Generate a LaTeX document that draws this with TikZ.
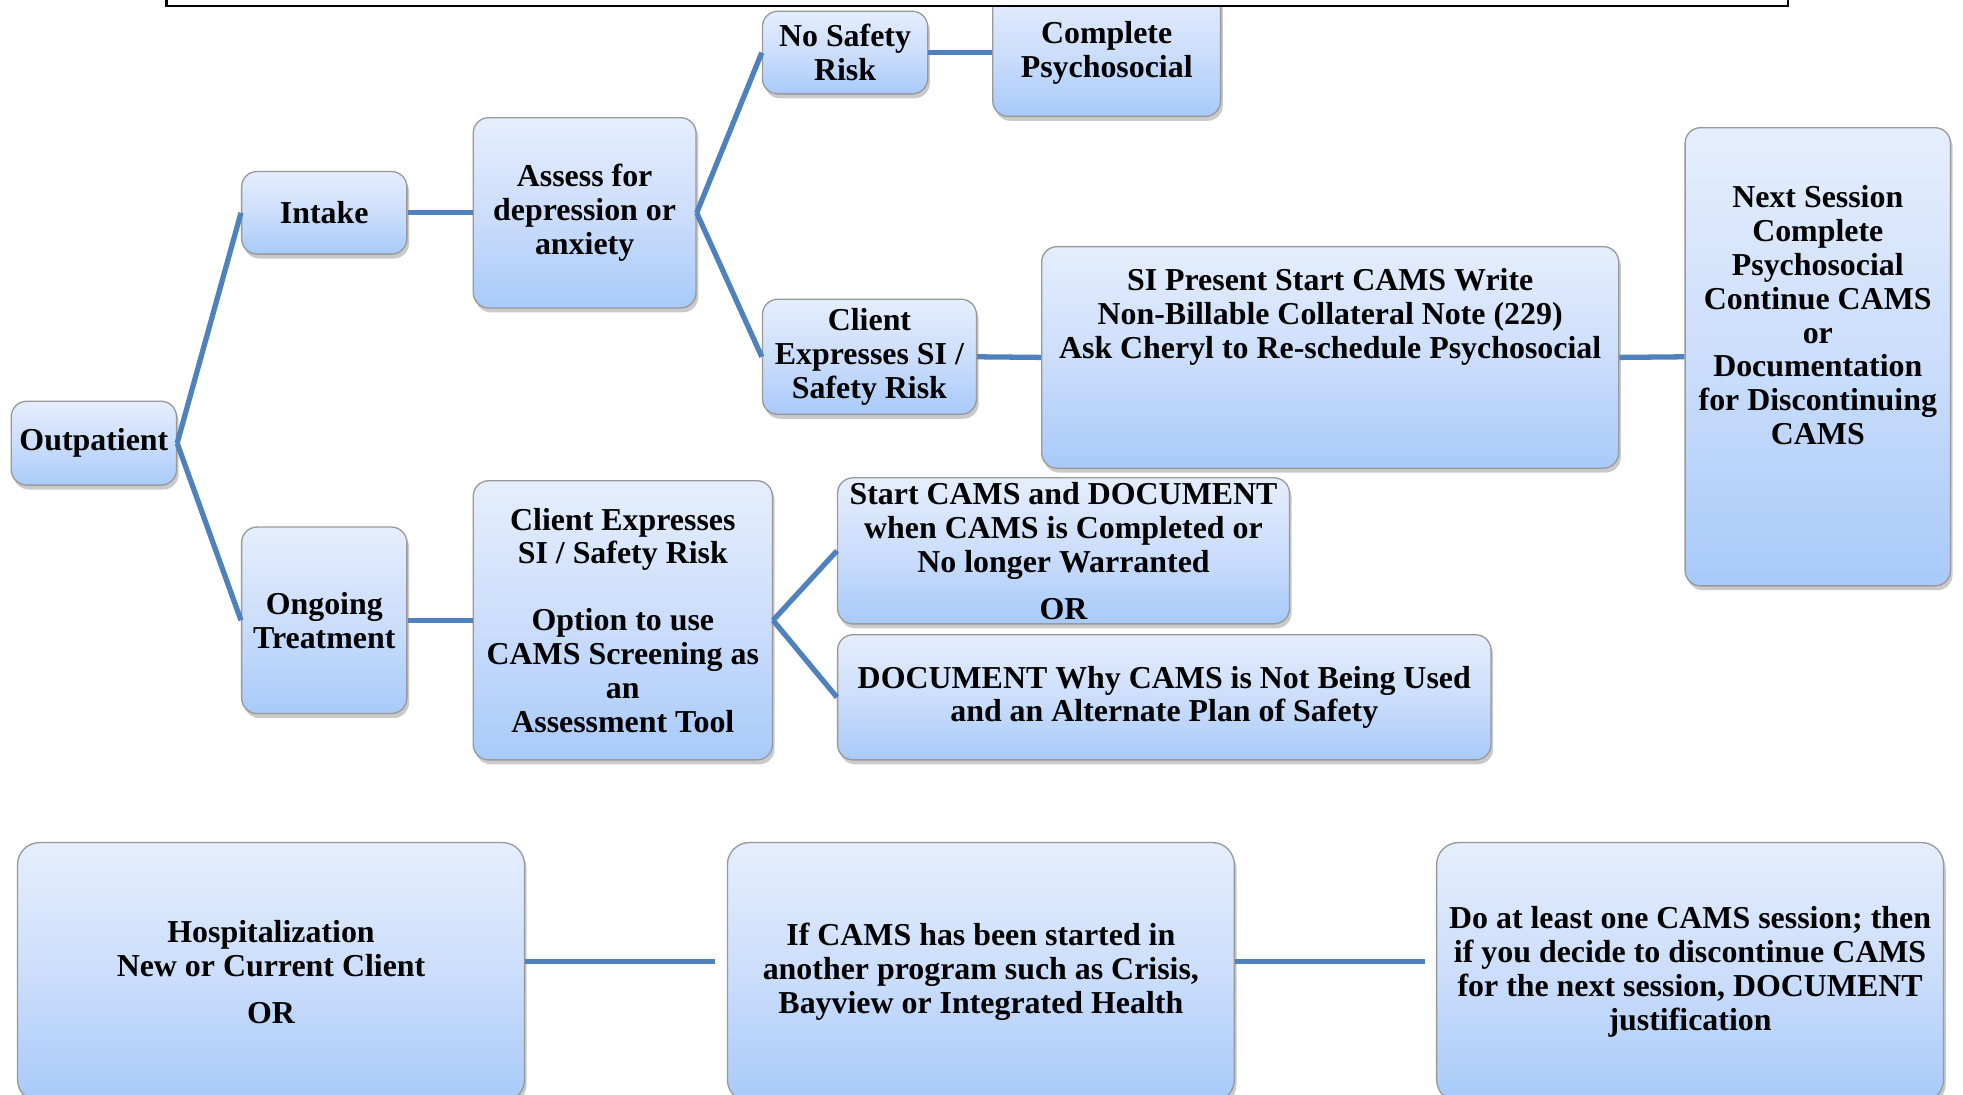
\documentclass[tikz,border=0pt]{standalone}
\usepackage{fontspec}
\setmainfont{Liberation Serif}
\usetikzlibrary{shadows}
\definecolor{boxtop}{HTML}{E5EEFD}
\definecolor{boxmid}{HTML}{CCDEFB}
\definecolor{boxbot}{HTML}{A8CAFA}
\definecolor{linkblue}{HTML}{4F81BD}
\tikzset{
	stepbox/.style={draw=black!40, line width=0.6pt, rounded corners=7pt,
		top color=boxtop, bottom color=boxbot, middle color=boxmid,
		drop shadow={shadow xshift=1pt, shadow yshift=-2pt, opacity=0.35, fill=black!60},
		align=center, inner sep=2pt,
		font=\bfseries\fontsize{14.5pt}{15.4pt}\selectfont},
	link/.style={draw=linkblue, line width=2.4pt}
}
\begin{document}
\begin{tikzpicture}[x=0.02cm, y=-0.02cm]
\useasboundingbox (0,0) rectangle (1568,874);
\clip (0,0) rectangle (1568,874);
\path
	(75,354) node [stepbox, minimum width=2.64cm, minimum height=1.34cm] (out) {Outpatient}
	(259,170) node [stepbox, minimum width=2.64cm, minimum height=1.32cm] (intake) {Intake}
	(259,495.5) node [stepbox, minimum width=2.64cm, minimum height=2.98cm] (ongoing) {Ongoing\\Treatment}
	(467,170) node [stepbox, minimum width=3.56cm, minimum height=3.04cm] (assess) {Assess for\\depression or\\anxiety}
	(675,42) node [stepbox, minimum width=2.64cm, minimum height=1.32cm] (nosafe) {No Safety\\Risk}
	(884,42) node [stepbox, minimum width=3.64cm, minimum height=2.04cm] (psycho) {Complete\\Psychosocial}
	(694.5,285) node [stepbox, minimum width=3.42cm, minimum height=1.84cm] (clienta) {Client\\Expresses SI /\\Safety Risk}
	(1062.5,285.5) node [stepbox, minimum width=9.22cm, minimum height=3.54cm, text depth=40pt] (sipresent) {SI Present Start CAMS Write\\Non-Billable Collateral Note (229)\\Ask Cheryl to Re-schedule Psychosocial}
	(1452,285) node [stepbox, minimum width=4.24cm, minimum height=7.32cm, text depth=38pt] (nextsess) {Next Session\\Complete\\Psychosocial\\Continue CAMS\\or\\Documentation\\for Discontinuing\\CAMS}
	(497.5,495.5) node [stepbox, minimum width=4.78cm, minimum height=4.46cm] (clientb) {Client Expresses\\SI / Safety Risk\\[15pt]Option to use\\CAMS Screening as\\an\\Assessment Tool}
	(849.5,440) node [stepbox, minimum width=7.22cm, minimum height=2.28cm] (startcams) {Start CAMS and DOCUMENT\\when CAMS is Completed or\\No longer Warranted\\[6pt]OR}
	(930,557) node [stepbox, minimum width=10.44cm, minimum height=2.0cm] (docwhy) {DOCUMENT Why CAMS is Not Being Used\\and an Alternate Plan of Safety}
	(216.5,776.5) node [stepbox, rounded corners=10pt, minimum width=8.1cm, minimum height=4.14cm] (hosp) {Hospitalization\\New or Current Client\\[6pt]OR}
	(783.5,776.5) node [stepbox, rounded corners=10pt, minimum width=8.1cm, minimum height=4.14cm] (ifcams) {If CAMS has been started in\\another program such as Crisis,\\Bayview or Integrated Health}
	(1350,776.5) node [stepbox, rounded corners=10pt, minimum width=8.1cm, minimum height=4.14cm] (doone) {Do at least one CAMS session; then\\if you decide to discontinue CAMS\\for the next session, DOCUMENT\\justification};
\coordinate (hospend) at (571,768);
\coordinate (ifend) at (1138,768);
\draw [fill=white, line width=1pt] (133,-30) rectangle (1428,5);
\draw [link] (out.east) -- (intake.west);
\draw [link] (out.east) -- (ongoing.west);
\draw [link] (intake.east) -- (assess.west);
\draw [link] (assess.east) -- (nosafe.west);
\draw [link] (assess.east) -- (clienta.west);
\draw [link] (nosafe.east) -- (psycho.west);
\draw [link] (clienta.east) -- (sipresent.west);
\draw [link] (sipresent.east) -- (nextsess.west);
\draw [link] (ongoing.east) -- (clientb.west);
\draw [link] (clientb.east) -- (startcams.west);
\draw [link] (clientb.east) -- (docwhy.west);
\draw [link] (hospend -| hosp.east) -- (hospend);
\draw [link] (ifend -| ifcams.east) -- (ifend);
\end{tikzpicture}
\end{document}
